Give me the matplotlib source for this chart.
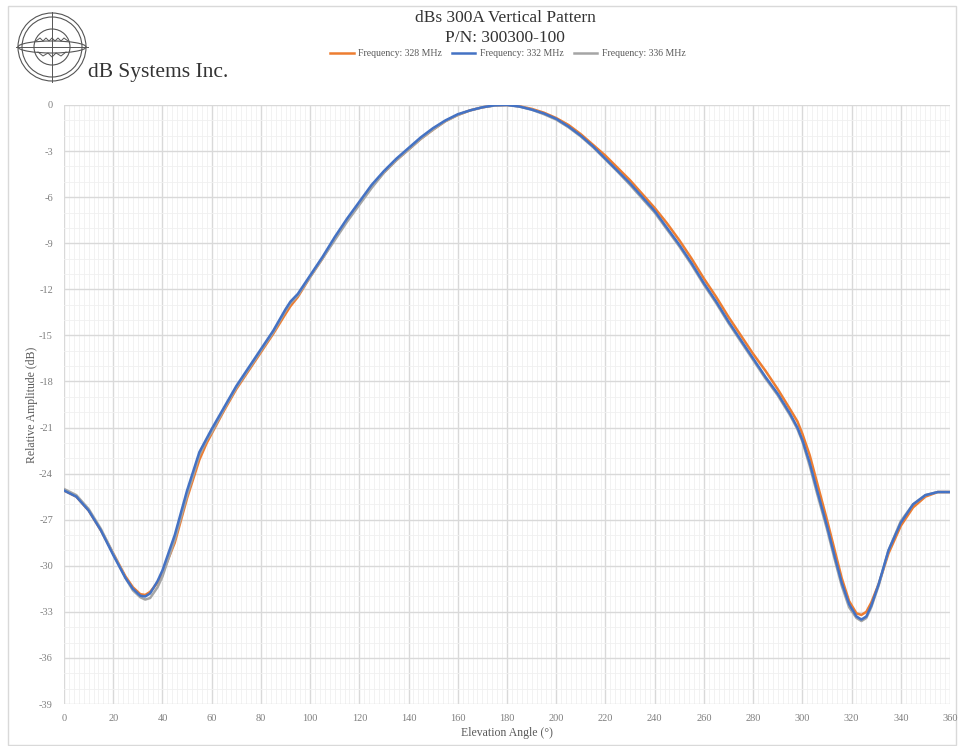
import numpy as np
import matplotlib
matplotlib.use('Agg')
from matplotlib import pyplot as plt
from matplotlib.patches import Circle, Ellipse, Rectangle
from matplotlib.ticker import MultipleLocator

plt.rcParams['font.family'] = ['Liberation Serif', 'DejaVu Serif']
plt.rcParams['axes.unicode_minus'] = False

# Elevation angle (deg) and relative amplitude (dB)
angle = [0, 5, 10, 15, 20, 25, 28, 31, 33, 35, 38, 40, 45, 50, 55, 58, 60, 65, 70,
         75, 80, 85, 90, 92, 95, 100, 105, 110, 115, 120, 125, 130, 135, 140, 145,
         150, 155, 160, 165, 170, 175, 180, 185, 190, 195, 200, 205, 210, 215, 220,
         225, 230, 235, 240, 245, 250, 255, 260, 265, 270, 275, 280, 285, 290, 295,
         298, 300, 303, 306, 310, 313, 316, 319, 322, 324, 326, 328, 331, 335, 340,
         345, 350, 355, 360]

amp_328 = [-25.1, -25.5, -26.4, -27.7, -29.2, -30.7, -31.4, -31.85, -31.9, -31.7, -31.1,
           -30.5, -28.5, -25.6, -23.1, -22.0, -21.4, -19.9, -18.5, -17.3, -16.1, -14.9,
           -13.6, -13.1, -12.5, -11.2, -10.0, -8.7, -7.5, -6.4, -5.3, -4.4, -3.6, -2.9,
           -2.2, -1.6, -1.05, -0.65, -0.35, -0.15, -0.02, 0.0, -0.08, -0.25, -0.5, -0.85,
           -1.3, -1.9, -2.6, -3.3, -4.1, -4.9, -5.8, -6.7, -7.7, -8.8, -10.0, -11.3,
           -12.5, -13.8, -15.0, -16.2, -17.3, -18.5, -19.8, -20.6, -21.4, -22.8, -24.6,
           -27.0, -28.9, -30.8, -32.3, -33.1, -33.2, -33.0, -32.4, -31.2, -29.2, -27.4,
           -26.2, -25.5, -25.2, -25.2]

amp_332 = [-25.1, -25.5, -26.4, -27.7, -29.3, -30.8, -31.5, -31.95, -32.0, -31.8, -31.0,
           -30.3, -28.0, -25.1, -22.6, -21.7, -21.1, -19.7, -18.3, -17.1, -15.9, -14.7,
           -13.3, -12.8, -12.3, -11.1, -9.9, -8.6, -7.4, -6.3, -5.2, -4.3, -3.5, -2.8,
           -2.1, -1.5, -1.0, -0.6, -0.35, -0.15, -0.02, 0.0, -0.1, -0.3, -0.55, -0.9,
           -1.4, -2.0, -2.7, -3.5, -4.3, -5.1, -6.0, -6.9, -8.0, -9.1, -10.3, -11.6,
           -12.8, -14.1, -15.3, -16.5, -17.7, -18.8, -20.1, -21.0, -21.8, -23.3, -25.1,
           -27.4, -29.3, -31.1, -32.5, -33.3, -33.5, -33.3, -32.6, -31.2, -29.0, -27.2,
           -26.0, -25.4, -25.2, -25.2]

amp_336 = [-25.0, -25.4, -26.3, -27.6, -29.2, -30.8, -31.6, -32.05, -32.2, -32.1, -31.4,
           -30.7, -28.3, -25.4, -22.8, -21.8, -21.3, -19.8, -18.4, -17.2, -16.0, -14.8,
           -13.4, -12.9, -12.4, -11.2, -10.0, -8.8, -7.6, -6.5, -5.4, -4.4, -3.6, -2.9,
           -2.2, -1.6, -1.05, -0.65, -0.35, -0.15, -0.03, 0.0, -0.1, -0.3, -0.6, -0.95,
           -1.45, -2.05, -2.75, -3.55, -4.35, -5.2, -6.1, -7.0, -8.1, -9.2, -10.4, -11.7,
           -12.9, -14.2, -15.4, -16.6, -17.8, -18.9, -20.2, -21.1, -21.9, -23.5, -25.3,
           -27.6, -29.5, -31.3, -32.7, -33.4, -33.6, -33.4, -32.7, -31.3, -29.0, -27.1,
           -26.0, -25.4, -25.2, -25.2]

labels = ['Frequency: 328 MHz', 'Frequency: 332 MHz', 'Frequency: 336 MHz']
colors = ['#ED7D31', '#4472C4', '#A5A5A5']

W, H = 963, 746
fig = plt.figure(figsize=(W / 100, H / 100), dpi=100)
fig.patch.set_facecolor('white')

ax = fig.add_axes([64 / W, 1 - 704 / H, (950 - 64) / W, (704 - 105) / H])

ax.plot(angle, amp_328, color=colors[0], lw=1.8, label=labels[0], zorder=3)
ax.plot(angle, amp_332, color=colors[1], lw=1.8, label=labels[1], zorder=5)
ax.plot(angle, amp_336, color=colors[2], lw=1.8, label=labels[2], zorder=4)

ax.set_xlim(0, 360)
ax.set_ylim(-39, 0)
ax.xaxis.set_major_locator(MultipleLocator(20))
ax.xaxis.set_minor_locator(MultipleLocator(2))
ax.yaxis.set_major_locator(MultipleLocator(3))
ax.yaxis.set_minor_locator(MultipleLocator(1))
ax.grid(which='major', color='#d9d9d9', lw=1.0, zorder=1)
ax.grid(which='minor', color='#f0f0f0', lw=0.6, zorder=0)
ax.set_axisbelow(True)
for s in ax.spines.values():
    s.set_visible(False)
ax.tick_params(which='both', length=0, labelsize=7.5, labelcolor='#7f7f7f')
ax.tick_params(axis='y', pad=8)
ax.tick_params(axis='x', pad=7)

ax.set_xlabel('Elevation Angle (°)', fontsize=8.5, color='#595959', labelpad=3)
ax.set_ylabel('Relative Amplitude (dB)', fontsize=8.5, color='#595959', labelpad=1)

# Title
fig.text(505 / W, 1 - 18 / H, 'dBs 300A Vertical Pattern', ha='center', va='center',
         fontsize=12.5, color='#333333')
fig.text(505 / W, 1 - 38 / H, 'P/N: 300300-100', ha='center', va='center',
         fontsize=12.5, color='#333333')

fig.legend(loc='center', bbox_to_anchor=(508 / W, 1 - 54 / H), ncol=3, frameon=False,
           fontsize=7, handlelength=2.4, columnspacing=1.0, handletextpad=0.5,
           labelcolor='#595959')

# Overlay in pixel coordinates for frame and logo
ov = fig.add_axes([0, 0, 1, 1], zorder=-1)
ov.set_xlim(0, W)
ov.set_ylim(H, 0)
ov.axis('off')
ov.add_patch(Rectangle((8, 6), 948, 739, fill=False, ec='#d9d9d9', lw=1.0))

cx, cy = 52, 47
for r in [34, 30, 18]:
    ov.add_patch(Circle((cx, cy), r, fill=False, ec='#555555', lw=0.8))
ov.add_patch(Ellipse((cx, cy), 68, 12, fill=False, ec='#555555', lw=0.8))
ov.plot([cx, cx], [12, 82], color='#555555', lw=0.7)
ov.plot([16, 88], [cy, cy], color='#555555', lw=0.7)
ov.plot([36, 40, 43, 46, 49, 52, 55, 58, 61, 64, 68],
        [41, 38, 41, 38, 41, 38, 41, 38, 41, 38, 41], color='#555555', lw=0.7)
ov.plot([38, 43, 48, 52, 56, 61, 66], [52, 56, 53, 57, 53, 56, 52],
        color='#555555', lw=0.7)

fig.text(88 / W, 1 - 72 / H, 'dB Systems Inc.', ha='left', va='center',
         fontsize=15.5, color='#333333')

fig.savefig('out.png', dpi=100, facecolor='white')
